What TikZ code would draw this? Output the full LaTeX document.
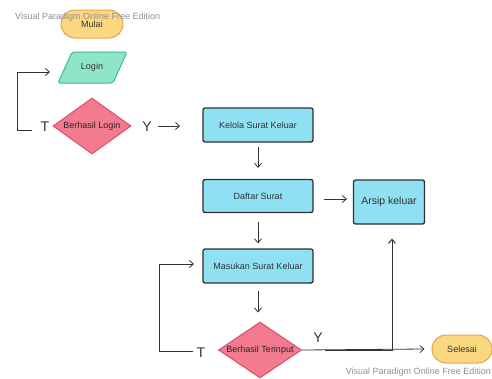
\documentclass[tikz,border=0pt]{standalone}
\usepackage{fontspec}
\setmainfont{Liberation Sans}
\usetikzlibrary{shapes.geometric,arrows.meta}
\definecolor{termfill}{HTML}{FCD781}
\definecolor{termline}{HTML}{E0A848}
\definecolor{iofill}{HTML}{8FE6C6}
\definecolor{ioline}{HTML}{40B898}
\definecolor{decfill}{HTML}{F27B90}
\definecolor{decline}{HTML}{D8506C}
\definecolor{procfill}{HTML}{8FE0F2}
\definecolor{procline}{HTML}{303030}
\definecolor{wm}{HTML}{909090}
\tikzset{
  term/.style={rounded corners=14pt, draw=termline, fill=termfill, line width=1pt, minimum width=62pt, minimum height=28pt, font=\fontsize{9}{10}\selectfont, text=black!80},
  iotext/.style={minimum width=55pt, minimum height=31pt, inner sep=0pt, font=\fontsize{9}{10}\selectfont, text=black!80},
  iofig/.style={draw=ioline, fill=iofill, line width=1pt, rounded corners=2pt},
  dec/.style={diamond, draw=decline, fill=decfill, line width=1pt, aspect=1.45, inner sep=0pt, font=\fontsize{9}{10}\selectfont, text=black!85},
  proc/.style={draw=procline, fill=procfill, line width=1.3pt, rounded corners=2pt, minimum width=110pt, minimum height=34pt, font=\fontsize{9}{10}\selectfont, text=black!80},
  conn/.style={draw=black!80, line width=0.8pt, -{Straight Barb[length=4pt,width=7pt]}},
  plain/.style={draw=black!80, line width=0.8pt},
  lab/.style={font=\fontsize{14}{15}\selectfont, text=black!80, inner sep=0pt},
  wmark/.style={font=\fontsize{9}{10}\selectfont, text=wm, inner sep=0pt}
}
\begin{document}
\begin{tikzpicture}[x=1pt,y=-1pt]
\useasboundingbox (0,0) rectangle (492,378);
\fill[white] (0,0) rectangle (492,378);
% nodes
\node[term] (mulai) at (92,24) {Mulai};
\path[iofig] (72,52) -- (127,52) -- (113,83) -- (58,83) -- cycle;
\node[iotext] (login) at (92,67) {Login};
\node[dec, minimum width=78pt, minimum height=56pt] (bl) at (92,126) {Berhasil Login};
\node[lab] (t1) at (45,127) {T};
\node[lab] (y1) at (147,127) {Y};
\node[proc] (kelola) at (258,125) {Kelola Surat Keluar};
\node[proc, minimum height=33pt] (daftar) at (258,196) {Daftar Surat};
\node[proc, minimum width=71pt, minimum height=44pt, font=\fontsize{10.5}{12}\selectfont] (arsip) at (389,202) {Arsip keluar};
\node[proc] (masukan) at (258,266) {Masukan Surat Keluar};
\node[dec, minimum width=83pt, minimum height=56pt] (bt) at (260,350) {Berhasil Terinput};
\node[lab] (t2) at (201,353) {T};
\node[lab] (y2) at (318,338) {Y};
\node[term, minimum width=60pt] (selesai) at (462,349) {Selesai};
\node[wmark, anchor=west] (wm1) at (15,17) {Visual Paradigm Online Free Edition};
\node[wmark, anchor=east] (wm2) at (491,372) {Visual Paradigm Online Free Edition};
% coordinates
\coordinate (l1a) at (32,130);
\coordinate (l1b) at (17,130);
\coordinate (l1c) at (17,72);
\coordinate (l1d) at (50,72);
\coordinate (ya) at (158,126);
\coordinate (yb) at (180,126);
\coordinate (l2a) at (193,351);
\coordinate (l2b) at (159,351);
\coordinate (l2c) at (159,264);
\coordinate (l2d) at (194,264);
\coordinate (jstart) at (325,350);
\coordinate (junc) at (392,350);
% connectors
\draw[plain] (l1a) -- (l1b) -- (l1c);
\draw[conn] (l1c) -- (l1d);
\draw[conn] (ya) -- (yb);
\draw[conn] ([yshift=-4pt]kelola.south) -- ([yshift=11pt]daftar.north);
\draw[conn] ([xshift=10pt,yshift=-3pt]daftar.east) -- ([xshift=-6pt,yshift=3pt]arsip.west);
\draw[conn] ([yshift=-9pt]daftar.south) -- ([yshift=5pt]masukan.north);
\draw[conn] ([yshift=-7pt]masukan.south) -- ([xshift=-2pt,yshift=9pt]bt.north);
\draw[plain] (l2a) -- (l2b) -- (l2c);
\draw[conn] (l2c) -- (l2d);
\draw[conn] (bt.east) -- ([xshift=-7pt]selesai.west);
\draw[conn, line width=1pt] (jstart) -- (junc) -- ([xshift=3pt,yshift=-14pt]arsip.south);
\end{tikzpicture}
\end{document}
